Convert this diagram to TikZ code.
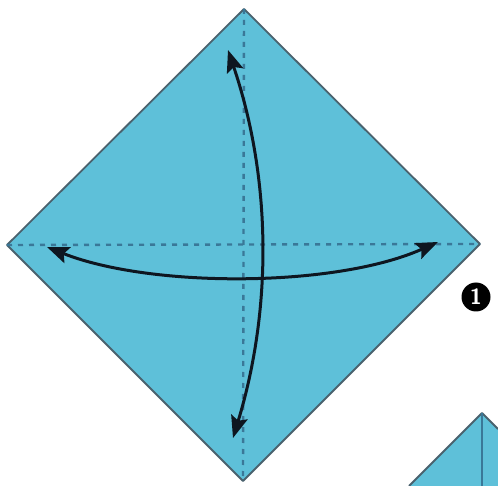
\documentclass[tikz,border=0pt]{standalone}
\definecolor{paper}{RGB}{94,192,217}
\definecolor{edge}{RGB}{74,98,110}
\definecolor{crease}{RGB}{58,120,152}
\definecolor{ink}{RGB}{14,22,32}
\usepackage{tikz}
\usetikzlibrary{arrows.meta}

\tikzset{
  valley/.style={crease,line width=2.4pt,dash pattern=on 5pt off 6pt},
  foldarrow/.style={ink,line width=3pt,{Stealth[length=22pt,width=17pt,inset=4pt]}-{Stealth[length=22pt,width=17pt,inset=4pt]}},
  stepnum/.style={circle,fill=black,text=white,inner sep=0pt,minimum size=29pt,font=\sffamily\bfseries\fontsize{22}{22}\selectfont}
}

\begin{document}
\begin{tikzpicture}[x=1pt,y=-1pt]
        \useasboundingbox (0,0) rectangle (498,486);
        \coordinate (top) at (244,9);
        \coordinate (left) at (7,245);
        \coordinate (right) at (480,244);
        \coordinate (bottom) at (243,481);
        \filldraw[fill=paper,draw=edge,line width=1.8pt,line join=round]
          (top) -- (right) -- (bottom) -- (left) -- cycle;
        \draw[valley] (top) -- (bottom);
        \draw[valley] (left) -- (right);
        \coordinate (vtip) at (228,50);
        \coordinate (vend) at (233,438);
        \coordinate (htip) at (47,247);
        \coordinate (hend) at (438,242);
        \draw[foldarrow] (vtip) .. controls (272,180) and (272,310) .. (vend);
        \draw[foldarrow] (htip) .. controls (150,288) and (335,288) .. (hend);
        \node[stepnum] (one) at (476,297) {1};
        % next step, cut off at the corner
        \coordinate (apex) at (482,413);
        \fill[paper] (409,486) -- (apex) -- (498,429) -- (498,486) -- cycle;
        \draw[edge,line width=1.8pt,line join=round] (409,486) -- (apex) -- (498,429);
        \draw[crease,line width=1.6pt] (apex) -- (482,486);
      \end{tikzpicture}
\end{document}
